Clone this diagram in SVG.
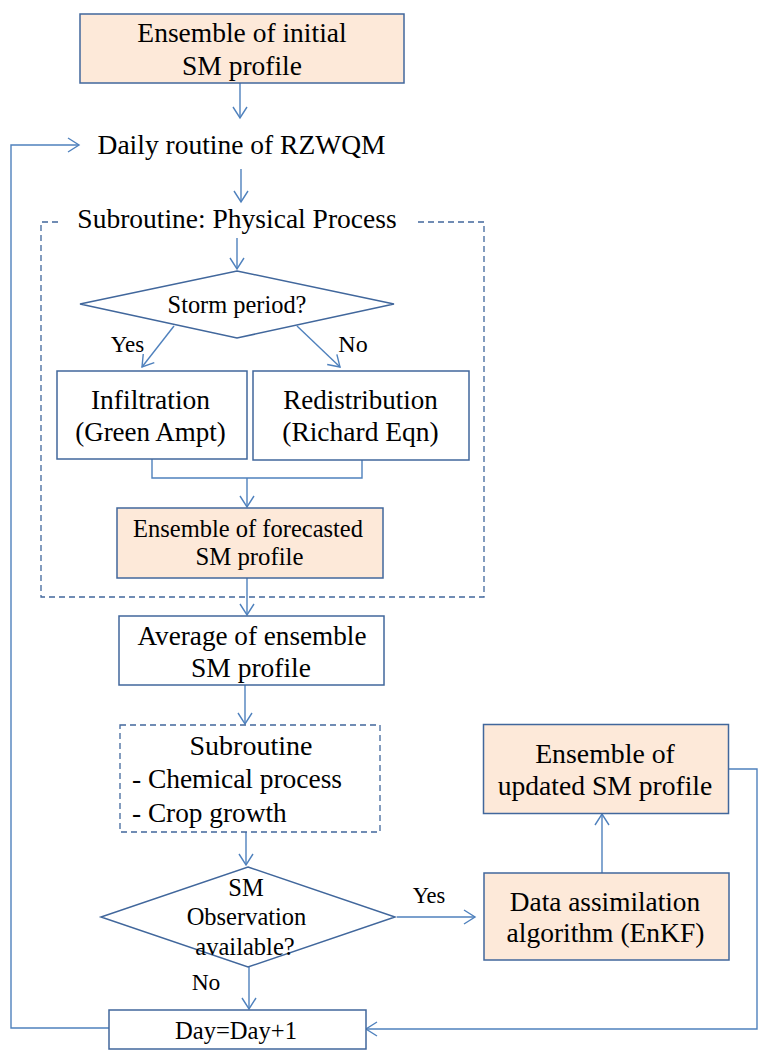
<svg xmlns="http://www.w3.org/2000/svg" width="760" height="1057" viewBox="0 0 760 1057">
<style>
.box{fill:#ffffff;stroke:#41679C;stroke-width:1.5}
.hl{fill:#FDE9D9;stroke:#41679C;stroke-width:1.5}
.dash{fill:none;stroke:#41679C;stroke-width:1.3;stroke-dasharray:6,4}
.c{fill:none;stroke:#4F81BD;stroke-width:1.4}
.t{font-family:"Liberation Serif","Times New Roman",serif;fill:#000;text-anchor:middle}
</style>
<defs>
<marker id="ar" markerUnits="userSpaceOnUse" markerWidth="16" markerHeight="16" viewBox="0 0 16 16" refX="12" refY="8" orient="auto" overflow="visible">
<path d="M1,1 L12,8 L1,15" fill="none" stroke="#4F81BD" stroke-width="1.4"/>
</marker>
</defs>
<rect width="760" height="1057" fill="#ffffff"/>

<g id="connectors">
<path class="c" d="M240,83 V118" marker-end="url(#ar)"/>
<path class="c" d="M109,1028 H11 V145 H79" marker-end="url(#ar)"/>
<path class="c" d="M241,169 V202" marker-end="url(#ar)"/>
<path class="c" d="M237,238 V269" marker-end="url(#ar)"/>
<path class="c" d="M174,326 L142,367" marker-end="url(#ar)"/>
<path class="c" d="M297,326 L340,367" marker-end="url(#ar)"/>
<path class="c" d="M152,459 V478 H362 V460"/>
<path class="c" d="M247,478 V507" marker-end="url(#ar)"/>
<path class="c" d="M247,578 V615" marker-end="url(#ar)"/>
<path class="c" d="M245,685 V724" marker-end="url(#ar)"/>
<path class="c" d="M246,832 V865" marker-end="url(#ar)"/>
<path class="c" d="M397,917 H475" marker-end="url(#ar)"/>
<path class="c" d="M602,873 V814" marker-end="url(#ar)"/>
<path class="c" d="M728,769 H757 V1029 H366" marker-end="url(#ar)"/>
<path class="c" d="M249,967 V1009" marker-end="url(#ar)"/>
</g>

<g id="initial">
<rect class="hl" x="80" y="14" width="324" height="69"/>
<text class="t" x="242" y="42" font-size="27.5">Ensemble of initial</text>
<text class="t" x="242" y="75" font-size="27.5">SM profile</text>
</g>

<g id="daily">
<text class="t" x="241.5" y="154" font-size="27.5">Daily routine of RZWQM</text>
</g>

<g id="physical">
<path class="dash" d="M58,222 H41 V597 H484 V222 H415"/>
<text class="t" x="237" y="228" font-size="27.5">Subroutine: Physical Process</text>
</g>

<g id="storm">
<polygon class="box" points="237,271 394,304 237,338 80,304"/>
<text class="t" x="237" y="313" font-size="24.4">Storm period?</text>
<text class="t" x="127.5" y="351.5" font-size="23">Yes</text>
<text class="t" x="353" y="351.5" font-size="24">No</text>
</g>

<g id="infiltration">
<rect class="box" x="57" y="371" width="190" height="88"/>
<text class="t" x="150.5" y="409" font-size="27.5">Infiltration</text>
<text class="t" x="150.5" y="441" font-size="27">(Green Ampt)</text>
</g>

<g id="redistribution">
<rect class="box" x="253" y="371" width="216" height="89"/>
<text class="t" x="360.5" y="409" font-size="27">Redistribution</text>
<text class="t" x="360.5" y="441" font-size="27.5">(Richard Eqn)</text>
</g>

<g id="forecasted">
<rect class="hl" x="117" y="508" width="266" height="70"/>
<text class="t" x="248" y="537" font-size="26" textLength="230" lengthAdjust="spacingAndGlyphs">Ensemble of forecasted</text>
<text class="t" x="249.5" y="565" font-size="26" textLength="108" lengthAdjust="spacingAndGlyphs">SM profile</text>
</g>

<g id="average">
<rect class="box" x="119" y="616" width="265" height="69"/>
<text class="t" x="252" y="645" font-size="27.2">Average of ensemble</text>
<text class="t" x="251" y="677" font-size="27.5">SM profile</text>
</g>

<g id="subroutine2">
<rect class="dash" x="120" y="725" width="260" height="107"/>
<text class="t" x="251" y="755" font-size="28">Subroutine</text>
<text class="t" x="132" y="788" font-size="27.5" style="text-anchor:start" textLength="210" lengthAdjust="spacing">- Chemical process</text>
<text class="t" x="132" y="821.5" font-size="27.3" style="text-anchor:start">- Crop growth</text>
</g>

<g id="observation">
<polygon class="box" points="248,867 395,917 248,967 101,917"/>
<text class="t" x="246" y="896" font-size="24.5">SM</text>
<text class="t" x="246.5" y="925" font-size="24.5">Observation</text>
<text class="t" x="245" y="955" font-size="24.5">available?</text>
<text class="t" x="429" y="903" font-size="22.5">Yes</text>
<text class="t" x="206" y="990" font-size="23.5">No</text>
</g>

<g id="assimilation">
<rect class="hl" x="484" y="873" width="245" height="87"/>
<text class="t" x="605" y="911" font-size="27.3">Data assimilation</text>
<text class="t" x="605.5" y="942" font-size="27.5">algorithm (EnKF)</text>
</g>

<g id="updated">
<rect class="hl" x="483.5" y="724.5" width="245" height="89"/>
<text class="t" x="605" y="763" font-size="27.8">Ensemble of</text>
<text class="t" x="605" y="795" font-size="27.6">updated SM profile</text>
</g>

<g id="day">
<rect class="box" x="109" y="1010" width="257" height="39"/>
<text class="t" x="236" y="1039" font-size="24.6">Day=Day+1</text>
</g>
</svg>
